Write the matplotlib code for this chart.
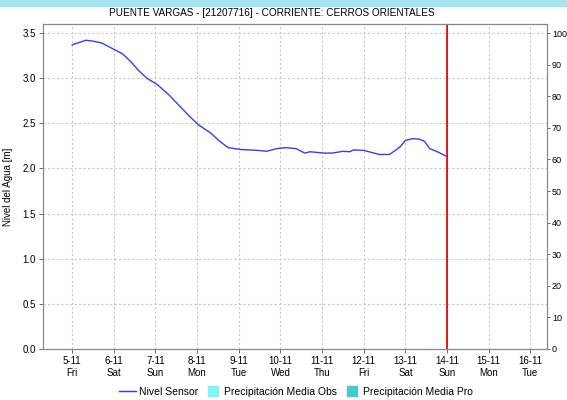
import matplotlib
matplotlib.use("Agg")
import matplotlib.pyplot as plt
from matplotlib.patches import Rectangle
from matplotlib.lines import Line2D
import numpy as np

plt.rcParams["font.family"] = ["Liberation Sans", "DejaVu Sans"]

# hours since 5-11 00:00 and water level [m]
hours = [0, 8, 12, 17, 24, 29, 34, 38, 43, 49, 56, 62, 68, 73, 80, 85, 90, 97,
         107, 112, 118, 123, 129, 134, 137, 145, 150, 156, 160, 162, 168, 172,
         177, 183, 189, 192, 196, 200, 203, 206, 211, 216]
level = [3.37, 3.42, 3.41, 3.39, 3.32, 3.27, 3.18, 3.09, 3.00, 2.93, 2.81, 2.69,
         2.57, 2.48, 2.39, 2.30, 2.23, 2.21, 2.20, 2.19, 2.22, 2.23, 2.22, 2.17,
         2.185, 2.17, 2.17, 2.19, 2.185, 2.205, 2.20, 2.18, 2.155, 2.155, 2.24,
         2.31, 2.33, 2.325, 2.30, 2.22, 2.18, 2.13]

day_labels = ["5-11\nFri", "6-11\nSat", "7-11\nSun", "8-11\nMon", "9-11\nTue",
              "10-11\nWed", "11-11\nThu", "12-11\nFri", "13-11\nSat", "14-11\nSun",
              "15-11\nMon", "16-11\nTue"]
now_day = 9  # 14-11

title = "PUENTE VARGAS - [21207716] - CORRIENTE: CERROS ORIENTALES"

fig = plt.figure(figsize=(5.67, 4.0), dpi=100)
fig.patches.append(Rectangle((0, 0.985), 1, 0.015, transform=fig.transFigure,
                             color="#a6e3f0", zorder=0))
ax = fig.add_axes([43 / 567, 1 - 349 / 400, 504 / 567, 325 / 400])

days = np.array(hours) / 24.0
ax.plot(days, level, color="#3a3aff", lw=1.0)
ax.axvline(now_day, color="#ee1111", lw=1.3)
ax.axvline(now_day, color="#990000", lw=0.6, ls=(0, (1, 2)))

ax.set_xlim(-0.7, 11.4)
ax.set_ylim(0, 3.6)
ax.set_xticks(range(len(day_labels)))
ax.set_xticklabels(day_labels, fontsize=7, linespacing=1.3)
ax.set_yticks(np.arange(0, 3.51, 0.5))
ax.set_yticklabels([f"{v:.1f}" for v in np.arange(0, 3.51, 0.5)], fontsize=7)
ax.set_ylabel("Nivel del Agua [m]", fontsize=7)
ax.yaxis.set_label_coords(-0.06, 0.5)
ax.grid(True, color="#c8c8c8", ls=(0, (2, 2)), lw=0.8)
ax.tick_params(length=3, width=0.6, color="#555555", pad=2)
for s in ax.spines.values():
    s.set_color("#888888")
    s.set_linewidth(0.8)

ax2 = ax.twinx()
ax2.set_ylim(0, 3.6 / 3.5 * 100)
ax2.set_yticks(range(0, 101, 10))
ax2.tick_params(labelsize=6.5, length=2.5, width=0.6, color="#555555", pad=1)
for s in ax2.spines.values():
    s.set_color("#888888")
    s.set_linewidth(0.8)

fig.text(0.479, 0.968, title, ha="center", va="center", fontsize=7.2)

handles = [Line2D([], [], color="#3a3aff", lw=1.0),
           Line2D([], [], ls="none", marker="s", markersize=7,
                  color="#7ff3f5"),
           Line2D([], [], ls="none", marker="s", markersize=7,
                  color="#47c9c9")]
labels = ["Nivel Sensor", "Precipitación Media Obs", "Precipitación Media Pro"]
fig.legend(handles, labels, loc="center", bbox_to_anchor=(0.522, 0.02), ncol=3,
           frameon=False, fontsize=7.5, handlelength=1.6,
           handletextpad=0.3, columnspacing=0.6)

fig.savefig("out.png", dpi=100)
